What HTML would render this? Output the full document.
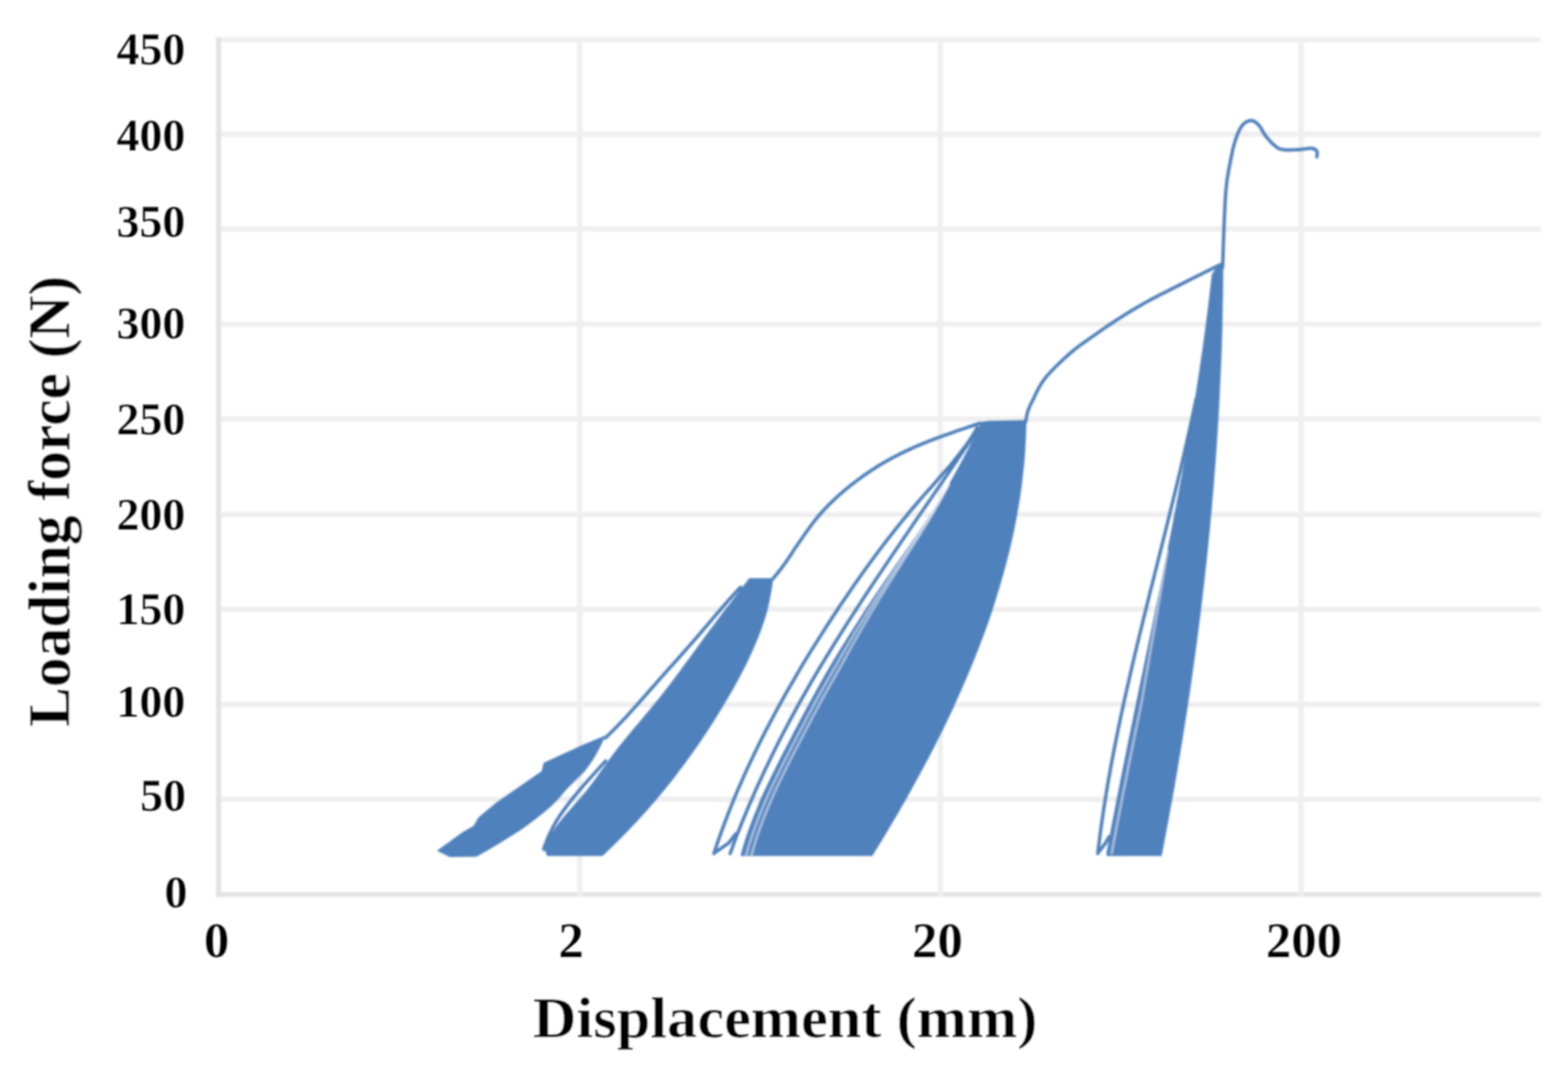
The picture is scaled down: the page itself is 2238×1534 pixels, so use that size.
<!DOCTYPE html>
<html lang="en">
<head>
<meta charset="utf-8">
<title>Loading force vs displacement</title>
<style>
html,body{margin:0;padding:0;background:#fff;}
body{width:2238px;height:1534px;overflow:hidden;}
svg{display:block;}
text{font-family:'Liberation Serif', 'DejaVu Serif', serif;font-weight:bold;fill:#050505;stroke:#fff;stroke-width:0.6px;}
text.tk{stroke-width:0.25px;}
#series polygon{fill:#4f81bd;}
#series polyline{fill:none;stroke:#4e7fb9;stroke-width:4.8;stroke-linejoin:round;stroke-linecap:round;}
#series polyline.st{stroke:#fff;stroke-width:3.4;stroke-opacity:0.5;stroke-linecap:butt;}
</style>
</head>
<body>
<svg width="2238" height="1534" viewBox="0 0 2238 1534">
<defs>
<filter id="soft" x="-2%" y="-2%" width="104%" height="104%"><feGaussianBlur stdDeviation="1.5"/></filter>
<filter id="softt" x="-5%" y="-5%" width="110%" height="110%"><feGaussianBlur stdDeviation="0.9"/></filter>
</defs>
<rect width="2238" height="1534" fill="#ffffff"/>
<g id="grid" filter="url(#soft)">
<rect x="308" y="52.8" width="1891" height="7.6" fill="#efefef"/>
<rect x="308" y="187.6" width="1891" height="7.6" fill="#efefef"/>
<rect x="308" y="323.1" width="1891" height="7.6" fill="#efefef"/>
<rect x="308" y="458.7" width="1891" height="7.6" fill="#efefef"/>
<rect x="308" y="594.2" width="1891" height="7.6" fill="#efefef"/>
<rect x="308" y="730.4" width="1891" height="7.6" fill="#efefef"/>
<rect x="308" y="865.5" width="1891" height="7.6" fill="#efefef"/>
<rect x="308" y="1001.5" width="1891" height="7.6" fill="#efefef"/>
<rect x="308" y="1136.8" width="1891" height="7.6" fill="#efefef"/>
<rect x="308" y="1273.1" width="1891" height="7.0" fill="#e4e4e4"/>
<rect x="308.5" y="53.0" width="7.0" height="1227.2" fill="#e2e2e2"/>
<rect x="823.7" y="53.0" width="7.6" height="1227.2" fill="#efefef"/>
<rect x="1338.2" y="53.0" width="7.6" height="1227.2" fill="#efefef"/>
<rect x="1853.2" y="53.0" width="7.6" height="1227.2" fill="#efefef"/>
</g>
<g id="series" filter="url(#soft)">
<polygon points="623.6,1214.0 646.8,1197.2 660.2,1187.6 676.0,1178.5 682.6,1166.8 696.0,1155.4 709.4,1144.5 773.0,1100.5 776.0,1088.5 835.0,1061.5 863.0,1050.0 863.0,1052.0 860.3,1058.1 857.4,1064.2 854.3,1070.3 850.9,1076.4 847.4,1082.4 843.5,1088.5 839.2,1094.6 834.4,1100.7 828.5,1106.8 822.1,1112.9 816.1,1119.0 810.1,1125.1 804.5,1131.2 799.5,1137.2 794.0,1143.3 787.8,1149.4 780.9,1155.5 773.7,1161.6 766.0,1167.7 757.9,1173.8 749.6,1179.9 740.8,1186.0 731.3,1192.1 721.5,1198.1 711.6,1204.2 701.4,1210.3 690.8,1216.4 680.0,1222.5 642.0,1223.0"/>
<polygon points="778.0,1214.0 779.3,1207.9 781.2,1201.8 783.6,1195.8 787.0,1189.7 791.0,1183.6 795.3,1177.5 799.8,1171.5 804.7,1165.4 810.0,1159.3 815.3,1153.2 820.7,1147.1 826.1,1141.1 831.4,1135.0 836.4,1128.9 841.2,1122.8 845.8,1116.8 850.3,1110.7 854.7,1104.6 859.0,1098.5 863.3,1092.4 867.6,1086.4 872.0,1080.3 876.6,1074.2 881.3,1068.1 886.1,1062.0 891.0,1056.0 896.0,1049.9 901.0,1043.8 906.1,1037.7 911.3,1031.7 916.4,1025.6 921.5,1019.5 926.6,1013.4 931.6,1007.3 936.6,1001.3 941.5,995.2 946.3,989.1 951.0,983.0 955.7,977.0 960.3,970.9 964.9,964.8 969.4,958.7 973.9,952.6 978.3,946.6 982.8,940.5 987.2,934.4 991.7,928.3 996.1,922.2 1000.5,916.2 1004.9,910.1 1009.4,904.0 1013.9,897.9 1018.5,891.9 1023.0,885.8 1027.6,879.7 1032.2,873.6 1036.8,867.5 1041.5,861.5 1046.1,855.4 1050.8,849.3 1055.5,843.2 1060.1,837.2 1064.8,831.1 1069.5,825.0 1103.5,825.0 1102.9,831.0 1102.1,837.0 1101.1,843.0 1100.0,849.0 1098.8,855.0 1097.6,861.0 1096.2,867.1 1094.7,873.1 1093.0,879.1 1091.1,885.1 1089.1,891.1 1087.0,897.1 1084.8,903.1 1082.5,909.1 1080.0,915.1 1077.5,921.1 1074.9,927.1 1072.2,933.1 1069.4,939.1 1066.5,945.2 1063.5,951.2 1060.4,957.2 1057.3,963.2 1054.1,969.2 1050.8,975.2 1047.5,981.2 1044.1,987.2 1040.6,993.2 1037.1,999.2 1033.5,1005.2 1029.9,1011.2 1026.2,1017.2 1022.5,1023.2 1018.8,1029.3 1015.0,1035.3 1011.1,1041.3 1007.1,1047.3 1003.1,1053.3 999.1,1059.3 994.9,1065.3 990.7,1071.3 986.5,1077.3 982.1,1083.3 977.7,1089.3 973.3,1095.3 968.7,1101.3 964.1,1107.4 959.4,1113.4 954.6,1119.4 949.8,1125.4 944.8,1131.4 939.8,1137.4 934.7,1143.4 929.5,1149.4 924.3,1155.4 918.9,1161.4 913.4,1167.4 907.9,1173.4 902.2,1179.4 896.5,1185.5 890.6,1191.5 884.7,1197.5 878.7,1203.5 872.5,1209.5 866.3,1215.5 860.0,1221.5 781.0,1221.5"/>
<polygon points="1056.9,1221.0 1058.5,1215.0 1060.2,1208.9 1062.0,1202.9 1063.9,1196.9 1065.9,1190.9 1068.0,1184.8 1070.2,1178.8 1072.5,1172.8 1074.8,1166.7 1077.2,1160.7 1079.7,1154.7 1082.2,1148.6 1084.7,1142.6 1087.3,1136.6 1090.0,1130.6 1092.8,1124.5 1095.7,1118.5 1098.6,1112.5 1101.5,1106.4 1104.5,1100.4 1107.4,1094.4 1110.5,1088.4 1113.5,1082.3 1116.6,1076.3 1119.7,1070.3 1122.9,1064.2 1126.0,1058.2 1129.1,1052.2 1132.2,1046.1 1135.4,1040.1 1138.6,1034.1 1141.7,1028.1 1144.9,1022.0 1148.1,1016.0 1151.4,1010.0 1154.6,1003.9 1157.9,997.9 1161.2,991.9 1164.5,985.9 1167.9,979.8 1171.3,973.8 1174.7,967.8 1178.1,961.7 1181.6,955.7 1185.1,949.7 1188.7,943.6 1192.4,937.6 1196.0,931.6 1199.7,925.6 1203.5,919.5 1207.2,913.5 1211.0,907.5 1214.8,901.4 1218.6,895.4 1222.5,889.4 1226.4,883.4 1230.3,877.3 1234.2,871.3 1238.1,865.3 1242.1,859.2 1246.1,853.2 1250.2,847.2 1254.3,841.1 1258.4,835.1 1262.5,829.1 1266.7,823.1 1270.8,817.0 1275.0,811.0 1279.1,805.0 1283.3,798.9 1287.5,792.9 1291.7,786.9 1295.9,780.9 1300.1,774.8 1304.3,768.8 1308.4,762.8 1312.6,756.7 1316.7,750.7 1320.7,744.7 1324.7,738.6 1328.7,732.6 1332.5,726.6 1336.3,720.6 1340.1,714.5 1343.7,708.5 1347.4,702.5 1351.0,696.4 1354.6,690.4 1358.0,684.4 1361.4,678.4 1364.8,672.3 1368.1,666.3 1371.4,660.3 1374.7,654.2 1377.8,648.2 1381.0,642.2 1384.1,636.1 1387.1,630.1 1390.2,624.1 1393.2,618.1 1396.1,612.0 1399.0,606.0 1465.0,601.0 1464.9,607.0 1464.7,613.0 1464.5,619.1 1464.3,625.1 1464.0,631.1 1463.6,637.1 1463.3,643.2 1462.9,649.2 1462.4,655.2 1461.9,661.2 1461.3,667.3 1460.6,673.3 1459.9,679.3 1459.2,685.3 1458.5,691.4 1457.7,697.4 1456.9,703.4 1456.0,709.4 1455.0,715.5 1454.0,721.5 1453.0,727.5 1451.9,733.5 1450.8,739.6 1449.7,745.6 1448.5,751.6 1447.3,757.6 1446.0,763.7 1444.7,769.7 1443.3,775.7 1441.9,781.7 1440.4,787.8 1438.9,793.8 1437.4,799.8 1435.8,805.8 1434.1,811.8 1432.5,817.9 1430.8,823.9 1429.0,829.9 1427.3,835.9 1425.5,842.0 1423.6,848.0 1421.8,854.0 1419.9,860.0 1418.0,866.1 1416.1,872.1 1414.1,878.1 1412.0,884.1 1409.9,890.2 1407.7,896.2 1405.5,902.2 1403.3,908.2 1401.0,914.3 1398.7,920.3 1396.4,926.3 1394.0,932.3 1391.6,938.4 1389.2,944.4 1386.7,950.4 1384.2,956.4 1381.7,962.5 1379.1,968.5 1376.5,974.5 1373.9,980.5 1371.3,986.6 1368.6,992.6 1365.9,998.6 1363.2,1004.6 1360.5,1010.7 1357.7,1016.7 1354.8,1022.7 1351.9,1028.7 1349.0,1034.7 1346.1,1040.8 1343.1,1046.8 1340.1,1052.8 1337.0,1058.8 1334.0,1064.9 1330.9,1070.9 1327.7,1076.9 1324.6,1082.9 1321.4,1089.0 1318.2,1095.0 1314.9,1101.0 1311.7,1107.0 1308.4,1113.1 1305.1,1119.1 1301.8,1125.1 1298.4,1131.1 1295.1,1137.2 1291.7,1143.2 1288.2,1149.2 1284.8,1155.2 1281.3,1161.3 1277.8,1167.3 1274.2,1173.3 1270.6,1179.3 1267.0,1185.4 1263.4,1191.4 1259.8,1197.4 1256.1,1203.4 1252.4,1209.5 1248.7,1215.5 1245.0,1221.5 1060.0,1221.5"/>
<polygon points="1578.9,1219.0 1580.0,1213.0 1581.2,1206.9 1582.3,1200.9 1583.4,1194.9 1584.6,1188.8 1585.7,1182.8 1586.8,1176.7 1588.0,1170.7 1589.2,1164.7 1590.3,1158.6 1591.5,1152.6 1592.7,1146.6 1593.8,1140.5 1595.0,1134.5 1596.2,1128.5 1597.4,1122.4 1598.6,1116.4 1599.8,1110.3 1601.0,1104.3 1602.2,1098.3 1603.4,1092.2 1604.6,1086.2 1605.8,1080.2 1607.1,1074.1 1608.3,1068.1 1609.5,1062.1 1610.7,1056.0 1612.0,1050.0 1613.2,1043.9 1614.4,1037.9 1615.7,1031.9 1616.9,1025.8 1618.1,1019.8 1619.4,1013.8 1620.6,1007.7 1621.9,1001.7 1623.1,995.6 1624.4,989.6 1625.6,983.6 1626.8,977.5 1628.1,971.5 1629.3,965.5 1630.6,959.4 1631.8,953.4 1633.1,947.4 1634.3,941.3 1635.6,935.3 1636.8,929.2 1638.1,923.2 1639.3,917.2 1640.6,911.1 1641.8,905.1 1643.1,899.1 1644.3,893.0 1645.6,887.0 1646.8,881.0 1648.0,874.9 1649.3,868.9 1650.5,862.8 1651.7,856.8 1653.0,850.8 1654.2,844.7 1655.4,838.7 1656.7,832.7 1657.9,826.6 1659.1,820.6 1660.3,814.6 1661.5,808.5 1662.7,802.5 1663.9,796.4 1665.1,790.4 1666.3,784.4 1667.5,778.3 1668.7,772.3 1669.9,766.3 1671.1,760.2 1672.3,754.2 1673.5,748.2 1674.6,742.1 1675.8,736.1 1676.9,730.0 1678.1,724.0 1679.2,718.0 1680.4,711.9 1681.5,705.9 1682.6,699.9 1683.7,693.8 1684.9,687.8 1686.0,681.8 1687.1,675.7 1688.2,669.7 1689.3,663.6 1690.4,657.6 1691.5,651.6 1692.5,645.5 1693.6,639.5 1694.7,633.5 1695.7,627.4 1696.8,621.4 1697.8,615.4 1698.8,609.3 1699.9,603.3 1700.9,597.2 1701.9,591.2 1702.9,585.2 1703.9,579.1 1704.8,573.1 1705.8,567.1 1706.8,561.0 1707.7,555.0 1708.7,548.9 1709.6,542.9 1710.5,536.9 1711.5,530.8 1712.4,524.8 1713.3,518.8 1714.1,512.7 1715.0,506.7 1715.9,500.7 1716.7,494.6 1717.6,488.6 1718.4,482.5 1719.2,476.5 1720.0,470.5 1720.8,464.4 1721.6,458.4 1722.4,452.4 1723.2,446.3 1723.9,440.3 1724.7,434.3 1725.4,428.2 1726.1,422.2 1726.8,416.1 1727.5,410.1 1728.2,404.1 1728.9,398.0 1729.5,392.0 1735.0,383.0 1742.0,377.5 1746.0,377.0 1746.0,383.0 1745.9,389.1 1745.9,395.1 1745.8,401.1 1745.7,407.2 1745.6,413.2 1745.6,419.2 1745.5,425.3 1745.3,431.3 1745.2,437.3 1745.1,443.4 1745.0,449.4 1744.9,455.4 1744.7,461.4 1744.6,467.5 1744.5,473.5 1744.3,479.5 1744.1,485.6 1744.0,491.6 1743.8,497.6 1743.6,503.7 1743.3,509.7 1743.1,515.7 1742.8,521.8 1742.6,527.8 1742.3,533.8 1742.0,539.9 1741.7,545.9 1741.4,551.9 1741.2,558.0 1740.9,564.0 1740.6,570.0 1740.3,576.1 1739.9,582.1 1739.6,588.1 1739.3,594.2 1738.9,600.2 1738.5,606.2 1738.2,612.3 1737.8,618.3 1737.4,624.3 1737.0,630.4 1736.6,636.4 1736.2,642.4 1735.7,648.4 1735.3,654.5 1734.8,660.5 1734.4,666.5 1733.9,672.6 1733.4,678.6 1733.0,684.6 1732.5,690.7 1732.0,696.7 1731.5,702.7 1731.0,708.8 1730.4,714.8 1729.9,720.8 1729.4,726.9 1728.9,732.9 1728.3,738.9 1727.8,745.0 1727.2,751.0 1726.6,757.0 1726.0,763.1 1725.4,769.1 1724.8,775.1 1724.2,781.2 1723.6,787.2 1722.9,793.2 1722.3,799.2 1721.7,805.3 1721.0,811.3 1720.3,817.3 1719.7,823.4 1719.0,829.4 1718.3,835.4 1717.6,841.5 1716.9,847.5 1716.2,853.5 1715.5,859.6 1714.7,865.6 1714.0,871.6 1713.3,877.7 1712.5,883.7 1711.7,889.7 1711.0,895.8 1710.2,901.8 1709.4,907.8 1708.6,913.9 1707.8,919.9 1707.0,925.9 1706.2,932.0 1705.4,938.0 1704.5,944.0 1703.7,950.1 1702.8,956.1 1702.0,962.1 1701.1,968.1 1700.3,974.2 1699.4,980.2 1698.5,986.2 1697.6,992.3 1696.7,998.3 1695.8,1004.3 1694.8,1010.4 1693.9,1016.4 1693.0,1022.4 1692.0,1028.5 1691.1,1034.5 1690.1,1040.5 1689.2,1046.6 1688.2,1052.6 1687.2,1058.6 1686.2,1064.7 1685.2,1070.7 1684.2,1076.7 1683.2,1082.8 1682.2,1088.8 1681.2,1094.8 1680.2,1100.9 1679.1,1106.9 1678.1,1112.9 1677.0,1119.0 1676.0,1125.0 1674.9,1131.0 1673.8,1137.1 1672.7,1143.1 1671.6,1149.1 1670.5,1155.1 1669.4,1161.2 1668.3,1167.2 1667.2,1173.2 1666.1,1179.3 1664.9,1185.3 1663.8,1191.3 1662.6,1197.4 1661.5,1203.4 1660.3,1209.4 1659.2,1215.5 1658.0,1221.5 1580.0,1221.5"/>
<polyline points="776.0,1212.0 777.9,1206.0 780.2,1200.0 782.7,1194.0 785.5,1188.0 788.5,1182.0 791.7,1176.0 795.1,1170.0 799.0,1164.0 803.2,1158.0 807.6,1152.0 812.1,1146.0 816.8,1140.0 821.7,1134.0 826.7,1128.0 831.8,1122.0 837.1,1116.0 842.5,1110.0 847.9,1104.0 853.4,1098.0 858.9,1092.0 864.5,1086.0"/>
<polyline points="864.0,1053.0 870.4,1046.9 876.6,1040.7 882.6,1034.6 888.5,1028.4 894.3,1022.3 899.9,1016.1 905.4,1010.0 910.9,1003.9 916.4,997.7 921.8,991.6 927.2,985.4 932.6,979.3 938.0,973.1 943.4,967.0 948.9,960.9 954.4,954.7 959.9,948.6 965.4,942.4 970.8,936.3 976.3,930.1 981.7,924.0 987.1,917.9 992.5,911.7 997.8,905.6 1003.0,899.4 1008.3,893.3 1013.5,887.1 1018.7,881.0 1024.0,874.9 1029.3,868.7 1034.6,862.6 1040.0,856.4 1045.5,850.3 1051.2,844.1 1057.0,838.0"/>
<polyline points="1018.9,1218.0 1020.9,1212.0 1022.9,1206.0 1025.0,1199.9 1027.1,1193.9 1029.3,1187.9 1031.5,1181.9 1033.7,1175.9 1036.0,1169.8 1038.3,1163.8 1040.6,1157.8 1043.0,1151.8 1045.4,1145.8 1047.9,1139.7 1050.4,1133.7 1052.9,1127.7 1055.5,1121.7 1058.2,1115.7 1060.8,1109.6 1063.5,1103.6 1066.3,1097.6 1069.1,1091.6 1071.9,1085.6 1074.8,1079.5 1077.6,1073.5 1080.6,1067.5 1083.5,1061.5 1086.5,1055.5 1089.6,1049.4 1092.6,1043.4 1095.8,1037.4 1098.9,1031.4 1102.1,1025.4 1105.3,1019.3 1108.5,1013.3 1111.8,1007.3 1115.1,1001.3 1118.5,995.3 1121.9,989.2 1125.3,983.2 1128.8,977.2 1132.3,971.2 1135.8,965.2 1139.3,959.1 1142.9,953.1 1146.4,947.1 1150.1,941.1 1153.7,935.1 1157.4,929.0 1161.2,923.0 1165.0,917.0 1168.8,911.0 1172.6,905.0 1176.4,899.0 1180.3,892.9 1184.2,886.9 1188.1,880.9 1192.1,874.9 1196.0,868.9 1200.0,862.8 1204.1,856.8 1208.2,850.8 1212.3,844.8 1216.4,838.8 1220.6,832.7 1224.9,826.7 1229.1,820.7 1233.4,814.7 1237.7,808.7 1242.1,802.6 1246.5,796.6 1250.9,790.6 1255.4,784.6 1260.0,778.6 1264.7,772.5 1269.3,766.5 1274.1,760.5 1278.8,754.5 1283.6,748.5 1288.5,742.4 1293.4,736.4 1298.4,730.4 1303.4,724.4 1308.6,718.4 1313.8,712.3 1319.0,706.3 1324.3,700.3 1329.7,694.3 1335.0,688.3 1340.3,682.2 1345.6,676.2 1350.9,670.2 1356.1,664.2 1361.0,658.2 1365.9,652.1 1370.6,646.1 1375.3,640.1 1379.7,634.1 1383.9,628.1 1387.9,622.0 1391.5,616.0 1395.0,610.0"/>
<polyline points="1042.1,1218.0 1044.3,1212.0 1046.5,1206.0 1048.7,1200.0 1051.0,1194.0 1053.3,1188.0 1055.7,1182.0 1058.1,1176.0 1060.5,1170.0 1063.0,1164.0 1065.5,1158.0 1068.0,1152.0 1070.6,1146.0 1073.2,1140.0 1075.8,1134.0 1078.4,1128.0 1081.1,1122.0 1083.9,1116.0 1086.6,1110.0 1089.4,1104.0 1092.2,1098.0 1095.1,1092.0 1098.0,1086.0 1100.9,1080.0 1103.8,1074.0 1106.8,1068.0 1109.8,1062.0 1112.8,1056.0 1115.9,1050.0 1119.0,1044.0 1122.2,1038.0 1125.3,1032.0 1128.5,1026.0 1131.8,1020.0 1135.0,1014.0 1138.3,1008.0 1141.6,1002.0 1145.0,996.0 1148.4,990.0 1151.8,984.0 1155.2,978.0 1158.7,972.0 1162.2,966.0 1165.7,960.0 1169.3,954.0 1172.9,948.0 1176.6,942.0 1180.2,936.0 1183.9,930.0 1187.6,924.0 1191.3,918.0 1195.1,912.0 1198.8,906.0 1202.6,900.0 1206.4,894.0 1210.2,888.0 1214.1,882.0 1217.9,876.0 1221.8,870.0 1225.7,864.0 1229.6,858.0 1233.5,852.0 1237.5,846.0 1241.4,840.0 1245.4,834.0 1249.4,828.0 1253.4,822.0 1257.5,816.0 1261.5,810.0 1265.5,804.0 1269.6,798.0 1273.6,792.0 1277.7,786.0 1281.8,780.0 1285.8,774.0 1289.9,768.0 1294.0,762.0 1298.1,756.0 1302.2,750.0 1306.3,744.0 1310.4,738.0 1314.5,732.0 1318.6,726.0 1322.8,720.0 1326.9,714.0 1331.0,708.0 1335.1,702.0 1339.2,696.0 1343.3,690.0 1347.4,684.0 1351.5,678.0 1355.6,672.0 1359.7,666.0 1363.8,660.0 1367.8,654.0 1371.9,648.0 1375.9,642.0 1380.0,636.0 1384.0,630.0 1388.0,624.0 1392.0,618.0 1396.1,612.0"/>
<polyline points="1020.0,1217.0 1040.0,1203.0 1050.0,1190.0"/>
<polyline points="1566.9,1218.0 1567.6,1212.0 1568.3,1206.0 1569.1,1200.0 1569.8,1194.0 1570.6,1188.0 1571.4,1182.0 1572.2,1176.0 1573.1,1170.0 1574.0,1164.0 1574.8,1158.0 1575.8,1152.0 1576.7,1146.0 1577.6,1140.0 1578.6,1134.0 1579.6,1128.0 1580.6,1122.0 1581.6,1116.0 1582.7,1110.0 1583.8,1104.0 1584.8,1098.0 1585.9,1092.0 1587.0,1086.0 1588.2,1080.0 1589.3,1074.0 1590.5,1068.0 1591.7,1062.0 1592.9,1056.0 1594.1,1050.0 1595.3,1044.0 1596.5,1038.0 1597.8,1032.0 1599.0,1026.0 1600.3,1020.0 1601.6,1014.0 1602.9,1008.0 1604.2,1002.0 1605.5,996.0 1606.9,990.0 1608.2,984.0 1609.6,978.0 1611.0,972.0 1612.3,966.0 1613.7,960.0 1615.1,954.0 1616.5,948.0 1617.9,942.0 1619.3,936.0 1620.8,930.0 1622.2,924.0 1623.6,918.0 1625.1,912.0 1626.5,906.0 1628.0,900.0 1629.5,894.0 1631.0,888.0 1632.4,882.0 1633.9,876.0 1635.4,870.0 1636.9,864.0 1638.4,858.0 1639.8,852.0 1641.3,846.0 1642.8,840.0 1644.4,834.0 1645.9,828.0 1647.4,822.0 1648.9,816.0 1650.4,810.0 1651.9,804.0 1653.4,798.0 1654.9,792.0 1656.4,786.0 1657.9,780.0 1659.4,774.0 1660.9,768.0 1662.4,762.0 1663.9,756.0 1665.4,750.0 1666.9,744.0 1668.4,738.0 1669.8,732.0 1671.3,726.0 1672.8,720.0 1674.3,714.0 1675.7,708.0 1677.2,702.0 1678.6,696.0 1680.1,690.0 1681.5,684.0 1682.9,678.0 1684.4,672.0 1685.8,666.0 1687.2,660.0 1688.6,654.0 1690.0,648.0 1691.3,642.0 1692.7,636.0 1694.1,630.0 1695.4,624.0 1696.7,618.0 1698.1,612.0 1699.4,606.0 1700.7,600.0 1702.0,594.0 1703.3,588.0 1704.5,582.0 1705.8,576.0 1707.0,570.0"/>
<polyline points="1568.0,1216.0 1578.0,1203.0 1583.0,1194.0"/>
<polyline points="1103.0,826.0 1109.1,818.7 1115.2,810.9 1121.3,802.6 1127.4,793.7 1133.5,784.2 1139.6,775.3 1145.7,766.5 1151.8,757.8 1157.9,749.4 1164.0,741.5 1170.1,734.1 1176.2,727.4 1182.4,721.0 1188.5,715.0 1194.6,709.3 1200.7,703.8 1206.8,698.6 1212.9,693.7 1219.0,688.9 1225.1,684.3 1231.2,679.8 1237.3,675.5 1243.4,671.4 1249.5,667.4 1255.6,663.6 1261.7,660.0 1267.8,656.6 1273.9,653.2 1280.0,650.1 1286.1,647.0 1292.2,644.0 1298.3,641.2 1304.4,638.4 1310.5,635.8 1316.6,633.2 1322.8,630.7 1328.9,628.3 1335.0,626.0 1341.1,623.8 1347.2,621.6 1353.3,619.4 1359.4,617.2 1365.5,615.1 1371.6,613.0 1377.7,610.9 1383.8,608.9 1389.9,606.9 1396.0,605.0"/>
<polyline points="1396.0,604.5 1405.0,604.0 1412.0,603.0 1464.0,602.0"/>
<polyline points="1464.0,601.0 1464.3,599.6 1464.5,598.2 1464.8,596.8 1465.0,595.4 1465.3,594.1 1465.5,592.7 1465.8,591.3 1466.2,589.9 1466.6,588.4 1467.0,587.0 1467.5,585.6 1467.9,584.3 1468.4,583.1 1468.8,581.9 1469.4,580.6 1470.0,579.3 1470.7,577.8 1471.5,576.1 1472.5,574.2 1473.6,572.0 1474.9,569.5 1476.2,566.7 1477.6,563.8 1479.1,560.6 1480.7,557.3 1482.5,553.9 1484.5,550.4 1486.6,546.9 1488.9,543.4 1491.5,540.0 1494.3,536.5 1497.5,533.0 1500.8,529.3 1504.4,525.6 1508.1,521.9 1511.9,518.2 1515.8,514.5 1519.6,511.0 1523.4,507.6 1527.0,504.4 1530.6,501.4 1534.2,498.4 1537.8,495.6 1541.4,492.9 1545.0,490.3 1548.6,487.7 1552.2,485.2 1555.8,482.6 1559.4,480.1 1563.0,477.6 1566.6,475.1 1570.2,472.6 1573.7,470.1 1577.3,467.6 1580.9,465.2 1584.4,462.8 1588.0,460.5 1591.6,458.1 1595.1,455.8 1598.7,453.5 1602.3,451.2 1605.9,449.0 1609.4,446.8 1613.0,444.6 1616.6,442.4 1620.2,440.3 1623.8,438.1 1627.4,436.1 1630.9,434.0 1634.5,432.0 1638.1,430.0 1641.6,428.1 1645.2,426.2 1648.7,424.4 1652.2,422.5 1655.8,420.7 1659.3,418.9 1662.9,417.1 1666.4,415.3 1670.0,413.5 1673.6,411.7 1677.2,409.8 1680.9,408.0 1684.6,406.1 1688.2,404.3 1691.9,402.5 1695.5,400.7 1699.0,398.9 1702.6,397.1 1706.0,395.4 1709.5,393.7 1713.1,391.9 1716.7,390.0 1720.3,388.2 1723.8,386.5 1727.2,384.8 1730.4,383.2 1733.3,381.8 1735.9,380.5 1738.0,379.5 1739.7,378.7 1740.9,378.1 1741.8,377.8 1742.4,377.5 1742.8,377.4 1743.1,377.4 1743.4,377.3 1743.6,377.3 1744.0,377.2 1744.5,377.0"/>
<polyline points="1745.0,382.0 1745.2,376.3 1745.4,370.6 1745.6,364.9 1745.8,359.2 1745.9,353.4 1746.1,347.7 1746.3,342.0 1746.5,336.3 1746.8,330.7 1747.0,325.0 1747.2,319.3 1747.5,313.4 1747.7,307.6 1748.0,301.7 1748.2,295.8 1748.5,290.1 1748.8,284.4 1749.2,279.0 1749.6,273.9 1750.0,269.0 1750.5,264.4 1751.0,260.1 1751.5,256.0 1752.1,252.1 1752.8,248.4 1753.4,244.8 1754.0,241.2 1754.7,237.8 1755.3,234.4 1756.0,231.0 1756.6,227.6 1757.3,224.4 1757.9,221.2 1758.6,218.0 1759.2,215.0 1759.9,212.0 1760.6,209.2 1761.4,206.4 1762.2,203.6 1763.0,201.0 1763.9,198.4 1764.8,195.8 1765.7,193.3 1766.6,190.9 1767.6,188.6 1768.6,186.3 1769.7,184.2 1770.8,182.3 1771.9,180.6 1773.0,179.0 1774.2,177.6 1775.4,176.4 1776.7,175.4 1778.1,174.4 1779.4,173.7 1780.8,173.1 1782.2,172.6 1783.5,172.3 1784.8,172.1 1786.0,172.0 1787.2,172.1 1788.4,172.4 1789.5,172.8 1790.6,173.4 1791.7,174.1 1792.8,175.0 1793.9,175.9 1794.9,176.9 1796.0,177.9 1797.0,179.0 1798.0,180.2 1798.9,181.5 1799.8,182.9 1800.7,184.5 1801.6,186.1 1802.5,187.7 1803.4,189.3 1804.4,190.9 1805.4,192.5 1806.5,194.0 1807.7,195.5 1808.9,197.0 1810.2,198.5 1811.6,200.1 1812.9,201.6 1814.3,203.1 1815.7,204.5 1817.0,205.8 1818.3,206.9 1819.6,208.0 1820.8,208.9 1821.8,209.7 1822.8,210.4 1823.8,211.1 1824.7,211.6 1825.8,212.1 1826.9,212.5 1828.1,212.9 1829.4,213.2 1831.0,213.5 1832.8,213.7 1834.8,213.9 1836.9,214.0 1839.2,214.0 1841.5,214.0 1843.9,213.9 1846.3,213.8 1848.6,213.7 1850.9,213.6 1853.0,213.5 1855.1,213.4 1857.2,213.2 1859.3,212.9 1861.4,212.6 1863.4,212.3 1865.4,212.1 1867.2,211.8 1869.0,211.7 1870.6,211.6 1872.0,211.7 1873.3,211.9 1874.4,212.1 1875.4,212.4 1876.2,212.8 1877.0,213.2 1877.7,213.7 1878.2,214.2 1878.7,214.8 1879.2,215.4 1879.6,216.0 1879.9,216.7 1880.1,217.4 1880.2,218.1 1880.1,218.9 1880.1,219.8 1880.0,220.6 1879.8,221.5 1879.7,222.3 1879.6,223.2 1879.6,224.0"/>
<polyline class="st" points="1064.9,1221.0 1066.5,1215.0 1068.2,1208.9 1070.0,1202.9 1071.9,1196.9 1073.9,1190.9 1076.0,1184.8 1078.2,1178.8 1080.5,1172.8 1082.8,1166.7 1085.2,1160.7 1087.7,1154.7 1090.2,1148.6 1092.7,1142.6 1095.3,1136.6 1098.0,1130.6 1100.8,1124.5 1103.7,1118.5 1106.6,1112.5 1109.5,1106.4 1112.5,1100.4 1115.4,1094.4 1118.5,1088.4 1121.5,1082.3 1124.6,1076.3 1127.7,1070.3 1130.9,1064.2 1134.0,1058.2 1137.1,1052.2 1140.2,1046.1 1143.4,1040.1 1146.6,1034.1 1149.7,1028.1 1152.9,1022.0 1156.1,1016.0 1159.4,1010.0 1162.6,1003.9 1165.9,997.9 1169.2,991.9 1172.5,985.9 1175.9,979.8 1179.3,973.8 1182.7,967.8 1186.1,961.7 1189.6,955.7 1193.1,949.7 1196.6,943.6 1200.0,937.6 1203.5,931.6 1207.0,925.6 1210.5,919.5 1214.1,913.5 1217.7,907.5 1221.3,901.4 1224.9,895.4 1228.6,889.4 1232.3,883.4 1236.0,877.3 1239.7,871.3 1243.5,865.3 1247.3,859.2 1251.1,853.2 1255.0,847.2 1258.9,841.1 1262.8,835.1 1266.8,829.1 1270.7,823.1 1274.7,817.0 1278.7,811.0 1282.7,805.0 1286.7,798.9 1290.7,792.9 1294.7,786.9 1298.7,780.9 1302.7,774.8 1306.7,768.8 1310.7,762.8 1314.6,756.7 1318.5,750.7 1322.4,744.7 1326.2,738.6 1330.0,732.6 1333.6,726.6 1337.2,720.6 1340.8,714.5 1344.3,708.5 1347.8,702.5 1351.2,696.4 1354.6,690.4"/>
<polyline class="st" points="1072.4,1221.0 1074.0,1215.0 1075.7,1208.9 1077.5,1202.9 1079.4,1196.9 1081.4,1190.9 1083.5,1184.8 1085.7,1178.8 1088.0,1172.8 1090.3,1166.7 1092.7,1160.7 1095.2,1154.7 1097.7,1148.6 1100.2,1142.6 1102.8,1136.6 1105.5,1130.6 1108.3,1124.5 1111.2,1118.5 1114.1,1112.5 1117.0,1106.4 1120.0,1100.4 1122.9,1094.4 1126.0,1088.4 1129.0,1082.3 1132.1,1076.3 1135.2,1070.3 1138.4,1064.2 1141.5,1058.2 1144.6,1052.2 1147.7,1046.1 1150.9,1040.1 1154.1,1034.1 1157.2,1028.1 1160.4,1022.0 1163.6,1016.0 1166.9,1010.0 1170.1,1003.9 1173.4,997.9 1176.7,991.9 1180.0,985.9 1183.4,979.8 1186.8,973.8 1190.2,967.8 1193.6,961.7 1197.1,955.7 1200.6,949.7 1203.9,943.6 1207.1,937.6 1210.4,931.6 1213.8,925.6 1217.1,919.5 1220.5,913.5 1224.0,907.5 1227.4,901.4 1230.9,895.4 1234.4,889.4 1237.9,883.4 1241.4,877.3 1245.0,871.3 1248.6,865.3 1252.2,859.2 1255.9,853.2 1259.6,847.2 1263.3,841.1 1267.0,835.1 1270.8,829.1 1274.6,823.1 1278.4,817.0 1282.2,811.0 1286.0,805.0 1289.8,798.9 1293.6,792.9 1297.5,786.9 1301.3,780.9 1305.2,774.8 1309.0,768.8 1312.8,762.8 1316.5,756.7 1320.3,750.7 1324.0,744.7 1327.6,738.6 1331.2,732.6 1334.7,726.6 1338.1,720.6 1341.5,714.5 1344.9,708.5 1348.1,702.5 1351.4,696.4 1354.6,690.4"/>
<polyline class="st" points="1586.4,1219.0 1587.5,1213.0 1588.7,1206.9 1589.8,1200.9 1590.9,1194.9 1592.1,1188.8 1593.2,1182.8 1594.3,1176.7 1595.5,1170.7 1596.7,1164.7 1597.8,1158.6 1599.0,1152.6 1600.2,1146.6 1601.3,1140.5 1602.5,1134.5 1603.7,1128.5 1604.9,1122.4 1606.1,1116.4 1607.3,1110.3 1608.5,1104.3 1609.7,1098.3 1610.9,1092.2 1612.1,1086.2 1613.3,1080.2 1614.6,1074.1 1615.8,1068.1 1617.0,1062.1 1618.2,1056.0 1619.5,1050.0 1620.7,1043.9 1621.9,1037.9 1623.2,1031.9 1624.4,1025.8 1625.6,1019.8 1626.9,1013.8 1628.1,1007.7 1629.4,1001.7 1630.5,995.6 1631.5,989.6 1632.5,983.6 1633.6,977.5 1634.6,971.5 1635.7,965.5 1636.7,959.4 1637.8,953.4 1638.8,947.4 1639.8,941.3 1640.9,935.3 1641.9,929.2 1643.0,923.2 1644.0,917.2 1645.1,911.1 1646.1,905.1 1647.1,899.1 1648.2,893.0 1649.2,887.0 1650.2,881.0 1651.3,874.9 1652.3,868.9 1653.3,862.8 1654.4,856.8 1655.4,850.8 1656.4,844.7 1657.4,838.7 1658.5,832.7 1659.5,826.6 1660.5,820.6 1661.5,814.6 1662.5,808.5 1663.5,802.5 1664.5,796.4 1665.5,790.4 1666.5,784.4"/>
</g>
<g id="labels" filter="url(#softt)">
<text x="264.4" y="91.7" text-anchor="end" font-size="65.5" class="tk">450</text>
<text x="264.4" y="215.4" text-anchor="end" font-size="65.5" class="tk">400</text>
<text x="264.4" y="337.7" text-anchor="end" font-size="65.5" class="tk">350</text>
<text x="264.4" y="482.7" text-anchor="end" font-size="65.5" class="tk">300</text>
<text x="264.4" y="620.1" text-anchor="end" font-size="65.5" class="tk">250</text>
<text x="264.4" y="756.3" text-anchor="end" font-size="65.5" class="tk">200</text>
<text x="264.4" y="890.5" text-anchor="end" font-size="65.5" class="tk">150</text>
<text x="264.4" y="1022.5" text-anchor="end" font-size="65.5" class="tk">100</text>
<text x="265.5" y="1156.7" text-anchor="end" font-size="65.5" class="tk">50</text>
<text x="267.5" y="1294.5" text-anchor="end" font-size="65.5" class="tk">0</text>
<text x="309" y="1366" text-anchor="middle" font-size="72.5" class="tk">0</text>
<text x="815" y="1366" text-anchor="middle" font-size="72.5" class="tk">2</text>
<text x="1338" y="1366" text-anchor="middle" font-size="72.5" class="tk">20</text>
<text x="1861" y="1366" text-anchor="middle" font-size="72.5" class="tk">200</text>
<text x="1120.6" y="1480.2" text-anchor="middle" font-size="83" textLength="720" lengthAdjust="spacingAndGlyphs">Displacement (mm)</text>
<text transform="translate(99.2 715.3) rotate(-90)" text-anchor="middle" font-size="85" textLength="643.5" lengthAdjust="spacingAndGlyphs">Loading force (N)</text>
</g>
</svg>
</body>
</html>
